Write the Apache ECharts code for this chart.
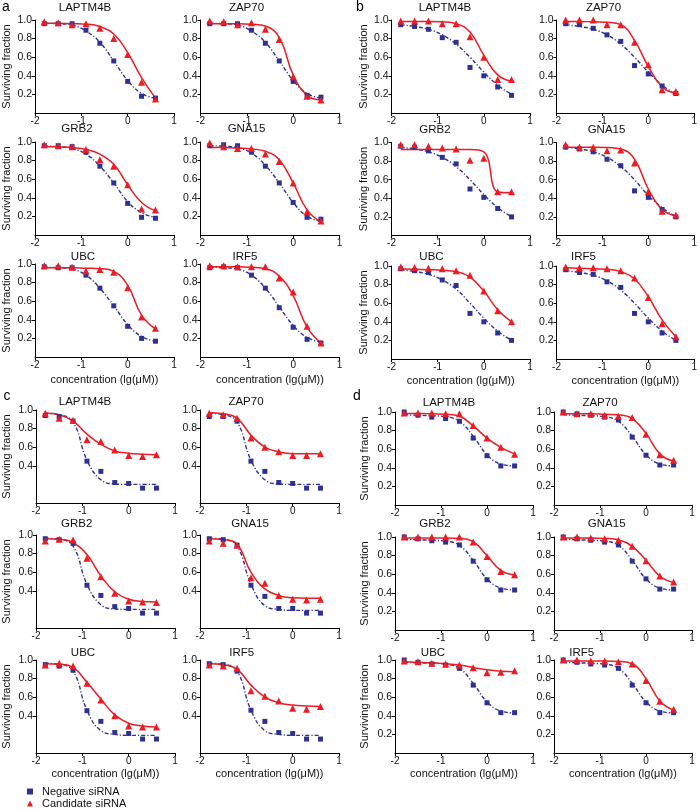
<!DOCTYPE html>
<html><head><meta charset="utf-8">
<script src="https://cdn.jsdelivr.net/npm/echarts@6.0.0/dist/echarts.min.js"></script>
<style>html,body{margin:0;padding:0;background:#fff}#c{width:700px;height:811px}</style>
</head><body><div id="c"></div>
<script>
// ---------------- data ----------------
const X = [-1.8, -1.5, -1.2, -0.9, -0.6, -0.3, 0, 0.3, 0.6];
const GENES = ['LAPTM4B', 'ZAP70', 'GRB2', 'GNA15', 'UBC', 'IRF5'];
const PANEL_NAMES = ['a', 'b', 'c', 'd'];
const LEGEND_NAMES = ['Negative siRNA', 'Candidate siRNA'];
const X_TICKS = [-2, -1, 0, 1];
const Y_TICKS_ABD = [0.2, 0.4, 0.6, 0.8, 1.0];
const Y_TICKS_C = [0.4, 0.6, 0.8, 1.0];

// panel a
const A_NEG = [
  [0.96,0.96,0.96,0.89,0.75,0.56,0.34,0.18,0.16],
  [0.96,0.96,0.96,0.89,0.75,0.56,0.34,0.19,0.17],
  [0.96,0.96,0.95,0.89,0.74,0.56,0.34,0.19,0.18],
  [0.96,0.97,0.96,0.89,0.74,0.56,0.35,0.19,0.17],
  [0.97,0.96,0.96,0.88,0.74,0.55,0.33,0.20,0.17],
  [0.96,0.97,0.96,0.88,0.74,0.53,0.32,0.19,0.15]];
const A_CAND = [
  [0.98,0.97,0.95,0.96,0.91,0.80,0.63,0.33,0.15],
  [0.99,0.98,0.95,0.97,0.90,0.79,0.39,0.18,0.14],
  [0.97,0.96,0.95,0.92,0.81,0.74,0.54,0.28,0.27],
  [0.99,0.95,0.93,0.93,0.87,0.79,0.56,0.25,0.15],
  [0.98,0.98,0.965,0.925,0.94,0.91,0.745,0.43,0.31],
  [0.98,0.98,0.97,0.97,0.97,0.85,0.70,0.33,0.15]];
const A_NEG_FIT = [
  [0.965,0.96,0.945,0.88,0.76,0.56,0.35,0.21,0.16],
  [0.965,0.96,0.945,0.88,0.76,0.56,0.35,0.21,0.16],
  [0.955,0.95,0.93,0.87,0.74,0.56,0.36,0.24,0.19],
  [0.96,0.955,0.94,0.88,0.75,0.56,0.35,0.20,0.15],
  [0.965,0.96,0.945,0.88,0.74,0.55,0.35,0.22,0.17],
  [0.965,0.96,0.945,0.88,0.74,0.54,0.34,0.21,0.16]];
const A_CAND_FIT = [
  [0.965,0.965,0.96,0.955,0.93,0.85,0.65,0.38,0.16],
  [0.96,0.96,0.96,0.955,0.935,0.81,0.41,0.19,0.14],
  [0.95,0.95,0.94,0.92,0.87,0.76,0.54,0.35,0.26],
  [0.94,0.94,0.935,0.925,0.90,0.81,0.56,0.27,0.14],
  [0.96,0.96,0.96,0.955,0.95,0.92,0.77,0.45,0.30],
  [0.97,0.97,0.97,0.965,0.95,0.87,0.66,0.32,0.15]];

// panel b
const B_NEG = [
  [0.95,0.93,0.90,0.81,0.76,0.49,0.40,0.28,0.19],
  [0.96,0.95,0.91,0.84,0.77,0.51,0.42,0.29,0.21],
  [0.96,0.95,0.91,0.84,0.77,0.50,0.41,0.29,0.20],
  [0.95,0.93,0.90,0.82,0.75,0.48,0.41,0.28,0.20],
  [0.97,0.95,0.93,0.85,0.79,0.49,0.40,0.28,0.20],
  [0.96,0.93,0.91,0.83,0.77,0.49,0.40,0.28,0.20]];
const B_CAND = [
  [0.99,0.99,0.99,0.96,0.96,0.82,0.60,0.36,0.36],
  [1.00,1.00,1.00,0.95,0.95,0.76,0.52,0.25,0.23],
  [0.975,0.975,0.96,0.94,0.93,0.81,0.83,0.47,0.47],
  [0.975,0.95,0.95,0.91,0.92,0.78,0.47,0.26,0.22],
  [0.99,0.985,0.975,0.97,0.95,0.90,0.73,0.52,0.40],
  [0.99,0.98,0.98,0.97,0.95,0.87,0.66,0.38,0.24]];
const B_NEG_FIT = [
  [0.95,0.93,0.90,0.84,0.74,0.60,0.44,0.30,0.20],
  [0.95,0.93,0.90,0.84,0.74,0.60,0.44,0.30,0.20],
  [0.95,0.93,0.90,0.84,0.74,0.60,0.44,0.30,0.20],
  [0.95,0.93,0.90,0.84,0.74,0.60,0.43,0.30,0.20],
  [0.96,0.94,0.91,0.85,0.75,0.60,0.44,0.30,0.20],
  [0.95,0.93,0.90,0.84,0.74,0.60,0.44,0.30,0.20]];
const B_CAND_FIT = [
  [0.985,0.985,0.985,0.98,0.96,0.87,0.62,0.41,0.34],
  [0.985,0.985,0.98,0.975,0.95,0.78,0.50,0.28,0.21],
  [0.925,0.925,0.925,0.925,0.925,0.925,0.90,0.47,0.46],
  [0.95,0.95,0.95,0.945,0.93,0.82,0.50,0.28,0.21],
  [0.97,0.965,0.96,0.955,0.94,0.88,0.73,0.53,0.40],
  [0.98,0.975,0.97,0.965,0.94,0.86,0.67,0.42,0.24]];

// panel c
const C_NEG = [
  [0.94,0.93,0.88,0.45,0.34,0.22,0.21,0.16,0.16],
  [0.93,0.93,0.88,0.45,0.34,0.22,0.21,0.16,0.16],
  [0.96,0.95,0.91,0.46,0.35,0.23,0.21,0.16,0.16],
  [0.96,0.95,0.89,0.46,0.34,0.21,0.21,0.16,0.16],
  [0.95,0.935,0.89,0.455,0.34,0.22,0.21,0.15,0.15],
  [0.96,0.95,0.88,0.46,0.34,0.22,0.21,0.15,0.15]];
const C_CAND = [
  [0.965,0.91,0.89,0.68,0.66,0.57,0.51,0.50,0.52],
  [0.965,0.95,0.91,0.70,0.60,0.55,0.51,0.51,0.53],
  [0.936,0.954,0.946,0.75,0.55,0.375,0.29,0.28,0.275],
  [0.936,0.91,0.89,0.54,0.48,0.35,0.31,0.30,0.31],
  [0.945,0.964,0.935,0.75,0.57,0.40,0.29,0.28,0.28],
  [0.945,0.935,0.91,0.67,0.61,0.56,0.48,0.47,0.50]];
const C_NEG_FIT = [
  [0.965,0.95,0.87,0.46,0.25,0.205,0.20,0.20,0.20],
  [0.965,0.95,0.87,0.46,0.25,0.205,0.20,0.20,0.20],
  [0.965,0.955,0.88,0.47,0.25,0.205,0.20,0.20,0.20],
  [0.965,0.955,0.88,0.47,0.24,0.20,0.19,0.19,0.19],
  [0.965,0.955,0.88,0.46,0.24,0.20,0.19,0.19,0.19],
  [0.965,0.955,0.88,0.46,0.24,0.20,0.19,0.19,0.19]];
const C_CAND_FIT = [
  [0.965,0.95,0.88,0.74,0.63,0.56,0.535,0.525,0.52],
  [0.97,0.96,0.91,0.73,0.60,0.55,0.53,0.53,0.53],
  [0.96,0.955,0.915,0.79,0.56,0.39,0.31,0.285,0.28],
  [0.96,0.95,0.90,0.60,0.42,0.35,0.325,0.32,0.32],
  [0.96,0.955,0.92,0.76,0.58,0.41,0.32,0.29,0.28],
  [0.96,0.95,0.90,0.73,0.60,0.54,0.515,0.505,0.50]];

// panel d
const D_NEG = [
  [1.00,0.965,0.945,0.93,0.90,0.72,0.53,0.42,0.42],
  [1.00,0.98,0.965,0.945,0.915,0.73,0.535,0.43,0.43],
  [1.00,0.98,0.96,0.945,0.915,0.74,0.54,0.43,0.43],
  [1.00,0.98,0.965,0.945,0.915,0.74,0.55,0.44,0.44],
  [1.00,0.975,0.957,0.946,0.91,0.73,0.54,0.434,0.434],
  [1.00,0.975,0.957,0.946,0.91,0.73,0.54,0.434,0.434]];
const D_CAND = [
  [0.99,0.99,0.99,0.98,0.98,0.855,0.72,0.62,0.545],
  [1.00,0.98,0.98,0.965,0.953,0.94,0.76,0.54,0.48],
  [1.00,1.00,1.00,1.00,1.00,0.946,0.79,0.63,0.595],
  [1.00,1.00,0.99,0.98,0.964,0.90,0.745,0.58,0.515],
  [0.99,0.98,0.964,0.957,0.946,0.917,0.863,0.867,0.885],
  [1.00,1.00,0.99,0.99,0.98,0.957,0.78,0.557,0.47]];
const D_NEG_FIT = [
  [0.97,0.965,0.96,0.95,0.90,0.74,0.54,0.44,0.42],
  [0.97,0.965,0.96,0.95,0.90,0.74,0.54,0.44,0.42],
  [0.975,0.97,0.965,0.955,0.91,0.75,0.55,0.45,0.43],
  [0.975,0.97,0.965,0.955,0.91,0.75,0.55,0.45,0.43],
  [0.975,0.97,0.965,0.955,0.91,0.75,0.55,0.45,0.43],
  [0.975,0.97,0.965,0.955,0.91,0.75,0.55,0.45,0.43]];
const D_CAND_FIT = [
  [0.985,0.985,0.98,0.975,0.955,0.85,0.72,0.62,0.55],
  [0.98,0.98,0.98,0.975,0.97,0.93,0.77,0.55,0.47],
  [0.99,0.99,0.99,0.99,0.985,0.95,0.80,0.64,0.59],
  [0.99,0.99,0.99,0.985,0.97,0.90,0.75,0.58,0.51],
  [0.98,0.975,0.97,0.96,0.945,0.92,0.895,0.88,0.875],
  [0.99,0.99,0.99,0.99,0.985,0.96,0.80,0.56,0.46]];

// ---------------- layout / style ----------------
const PANEL_DATA = [
  [A_NEG, A_CAND, A_NEG_FIT, A_CAND_FIT],
  [B_NEG, B_CAND, B_NEG_FIT, B_CAND_FIT],
  [C_NEG, C_CAND, C_NEG_FIT, C_CAND_FIT],
  [D_NEG, D_CAND, D_NEG_FIT, D_CAND_FIT]];
const LAYOUT = [
  {lx:[35,200.5], w:139, ty:[20,142,264], lab:[6,7], gap:23, ticks:Y_TICKS_ABD,
   tdx:[50,46,42,46,48,44.5], tdy:[-11.7,-12.7,-7.3], xgap:17},
  {lx:[391.5,556.5], w:138.5, ty:[20,142.5,266], lab:[360,7], gap:22, ticks:Y_TICKS_ABD,
   tdx:[53.5,47,43.5,50,40,27], tdy:[-11.7,-13,-9.3], xgap:16},
  {lx:[36,200], w:139, ty:[410,535,660], lab:[7,396], gap:24, ticks:Y_TICKS_C,
   tdx:[49,46,40.7,50,47,41.7], tdy:[-7.7,-11,-7.3], xgap:15},
  {lx:[395,554], w:138, ty:[412,537,660], lab:[357,396], gap:25, ticks:Y_TICKS_ABD,
   tdx:[54,46,40,52.7,38,27.7], tdy:[-8.7,-13,-6.7], xgap:15}];
const GH = 93;
const BLUE = '#2e3192', RED = '#ec1c24';
const FONT = "'Liberation Sans', Arial, Helvetica, sans-serif";

const grids = [], xAxes = [], yAxes = [], series = [], graphics = [];
PANEL_DATA.forEach((pd, pi) => {
  const L = LAYOUT[pi];
  graphics.push({type:'text', x:L.lab[0], y:L.lab[1],
    style:{text:PANEL_NAMES[pi], font:'14px ' + FONT, fill:'#000', align:'center', verticalAlign:'middle', textAlign:'center', textVerticalAlign:'middle'}});
  GENES.forEach((g, gi) => {
    const row = Math.floor(gi / 2), col = gi % 2;
    const idx = grids.length;
    const left = L.lx[col], top = L.ty[row];
    grids.push({left: left, top: top, width: L.w, height: GH});
    xAxes.push({gridIndex: idx, type:'value', min:-2, max:1, interval:1,
      axisLine:{onZero:false, lineStyle:{color:'#000', width:1}},
      axisTick:{length:3, lineStyle:{color:'#000'}},
      axisLabel:{margin:3, fontSize:10, color:'#111', fontFamily:FONT, customValues: X_TICKS},
      splitLine:{show:false},
      name: row === 2 ? 'concentration (lg(\u03bcM))' : '',
      nameLocation:'middle', nameGap:L.xgap,
      nameTextStyle:{fontSize:11, color:'#111', fontFamily:FONT}});
    yAxes.push({gridIndex: idx, type:'value', min:0, max:1, interval:0.2,
      axisLine:{show:true, onZero:false, lineStyle:{color:'#000', width:1}},
      axisTick:{show:true, length:3, lineStyle:{color:'#000'}, customValues: L.ticks},
      axisLabel:{margin:3, fontSize:10.5, color:'#111', fontFamily:FONT, customValues: L.ticks,
        formatter: v => v.toFixed(1)},
      splitLine:{show:false},
      name: col === 0 ? 'Surviving fraction' : '',
      nameLocation:'middle', nameGap:L.gap,
      nameTextStyle:{fontSize:11, color:'#111', fontFamily:FONT}});
    graphics.push({type:'text', x:left + L.tdx[gi], y:top + L.tdy[row],
      style:{text:g, font:'11.5px ' + FONT, fill:'#111', align:'center', verticalAlign:'middle', textAlign:'center', textVerticalAlign:'middle'}});
    const [neg, cand, negFit, candFit] = pd.map(a => a[gi]);
    series.push({type:'line', name:'Negative fit', xAxisIndex:idx, yAxisIndex:idx,
      data: X.map((x, i) => [x, negFit[i]]), showSymbol:false, smooth:0.45,
      lineStyle:{color:BLUE, width:1.4, type:[4, 2, 1.2, 2]}, silent:true, z:2, animation:false});
    series.push({type:'line', name:'Candidate fit', xAxisIndex:idx, yAxisIndex:idx,
      data: X.map((x, i) => [x, candFit[i]]), showSymbol:false, smooth:0.45,
      lineStyle:{color:RED, width:1.5}, silent:true, z:2, animation:false});
    series.push({type:'scatter', name:LEGEND_NAMES[0], xAxisIndex:idx, yAxisIndex:idx,
      data: X.map((x, i) => [x, neg[i]]), symbol:'rect', symbolSize:5,
      itemStyle:{color:BLUE, opacity:1}, z:3, animation:false});
    series.push({type:'scatter', name:LEGEND_NAMES[1], xAxisIndex:idx, yAxisIndex:idx,
      data: X.map((x, i) => [x, cand[i]]), symbol:'triangle', symbolSize:7,
      itemStyle:{color:RED, opacity:1}, z:4, animation:false});
  });
});

const legendBase = {orient:'horizontal', left:27, itemWidth:6, itemHeight:6, itemGap:4, padding:0,
  textStyle:{fontSize:11, color:'#111', fontFamily:FONT, padding:[0,0,0,4]}};
const chart = echarts.init(document.getElementById('c'), null, {renderer:'canvas'});
chart.setOption({
  backgroundColor:'#fff',
  animation:false,
  textStyle:{fontFamily:FONT},
  grid: grids, xAxis: xAxes, yAxis: yAxes, series: series,
  graphic: graphics,
  legend: [
    Object.assign({}, legendBase, {top:786, data:[{name:LEGEND_NAMES[0], icon:'rect', itemStyle:{color:BLUE}}]}),
    Object.assign({}, legendBase, {top:798, data:[{name:LEGEND_NAMES[1], icon:'triangle', itemStyle:{color:RED}}]})]
});
</script></body></html>
